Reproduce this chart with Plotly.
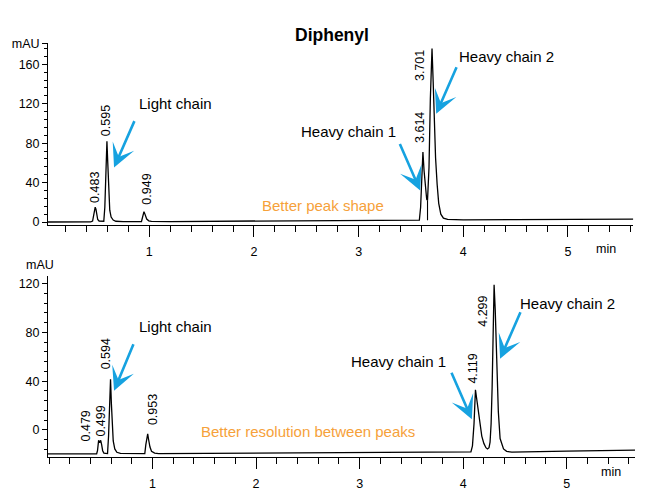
import plotly.graph_objects as go

# ---------------- data ----------------
# Top chromatogram
top_time = [0.03, 0.20, 0.44, 0.458, 0.468, 0.476, 0.483, 0.490, 0.498, 0.507,
            0.520, 0.545, 0.565, 0.575, 0.585, 0.595, 0.603, 0.612, 0.622, 0.635,
            0.655, 0.68, 0.75, 0.925, 0.935, 0.949, 0.960, 0.975, 0.995, 1.02,
            1.2, 1.6, 2.0, 2.4, 2.8, 3.2, 3.5, 3.58, 3.592, 3.603,
            3.614, 3.625, 3.638, 3.650, 3.658, 3.672, 3.685, 3.701, 3.712, 3.722,
            3.735, 3.750, 3.765, 3.785, 3.81, 3.85, 4.0, 4.5, 5.0, 5.3,
            5.624]
top_mau = [0, 0, 0.2, 1, 6, 12.5, 15, 13, 7, 2.5,
           1, 0.6, 0.8, 15, 52, 82, 60, 30, 12, 5,
           2, 0.8, 0.4, 0.5, 4, 10.5, 7.5, 3, 1.2, 0.6,
           0.5, 0.7, 0.9, 1.1, 1.4, 1.6, 1.8, 2, 15, 50,
           71, 52, 32, 23, 22, 55, 125, 176, 142, 100,
           65, 38, 19, 8, 4, 2.6, 2.2, 2.4, 2.7, 2.8,
           3]
top_peaks = [0.483, 0.595, 0.949, 3.614, 3.701]
top_drop_time = [3.658]
top_drop_top = [22]
top_drop_base = [1.8]

# Bottom chromatogram
bot_time = [-0.01, 0.2, 0.46, 0.468, 0.474, 0.479, 0.489, 0.499, 0.508, 0.518,
            0.530, 0.555, 0.565, 0.575, 0.585, 0.594, 0.602, 0.610, 0.620, 0.635,
            0.655, 0.69, 0.8, 0.925, 0.935, 0.953, 0.962, 0.975, 0.990, 1.02,
            1.06, 1.5, 2.0, 2.5, 3.0, 3.5, 4.0, 4.075, 4.09, 4.105,
            4.119, 4.133, 4.148, 4.165, 4.18, 4.20, 4.22, 4.235, 4.25, 4.26,
            4.27, 4.28, 4.29, 4.299, 4.31, 4.325, 4.34, 4.357, 4.375, 4.39,
            4.42, 4.47, 5.0, 5.66]
bot_mau = [-19.6, -19.6, -19.5, -17, -11, -8.5, -10.5, -8.5, -12, -17,
           -19, -19.3, -19.3, -5, 25, 41.5, 22, 3, -9, -15.5,
           -18.3, -19.2, -19.3, -19.3, -12, -3.2, -8, -14, -17.5, -19,
           -19.3, -19.1, -18.9, -18.7, -18.6, -18.5, -18.3, -18, -13, 5,
           33, 24, 13, 2, -5, -11, -14.5, -15.5, -14.5, -10,
           5, 35, 85, 119, 98, 58, 15, -7, -13, -15.5,
           -17.5, -18.2, -17.4, -16.5]
bot_peaks = [0.479, 0.499, 0.594, 0.953, 4.119, 4.299]

x_ticks = [1, 2, 3, 4, 5]
top_y_ticks = [0, 40, 80, 120, 160]
bot_y_ticks = [0, 40, 80, 120]

title_text = "Diphenyl"
chain_labels = ["Light chain", "Heavy chain 1", "Heavy chain 2"]
top_note = "Better peak shape"
bot_note = "Better resolution between peaks"

# ---------------- styles ----------------
W, H = 646, 495
FONT = "Liberation Sans, Arial, sans-serif"
BLUE = "#16A2E0"
ORANGE = "#F6A13A"

fig = go.Figure()

fig.add_trace(go.Scatter(x=top_time, y=top_mau, mode="lines",
                         line=dict(color="black", width=1.3),
                         xaxis="x", yaxis="y", hoverinfo="skip"))
# drop line (integration marker)
dx, dy = [], []
for t, a, b in zip(top_drop_time, top_drop_top, top_drop_base):
    dx += [t, t, None]
    dy += [a, b, None]
fig.add_trace(go.Scatter(x=dx, y=dy, mode="lines",
                         line=dict(color="black", width=1.1),
                         xaxis="x", yaxis="y", hoverinfo="skip"))
fig.add_trace(go.Scatter(x=bot_time, y=bot_mau, mode="lines",
                         line=dict(color="black", width=1.3),
                         xaxis="x2", yaxis="y2", hoverinfo="skip"))

axis_common = dict(showline=True, linecolor="black", linewidth=1,
                   showgrid=False, zeroline=False, tickcolor="black",
                   tickfont=dict(family=FONT, size=12.5, color="black"))

fig.update_layout(
    width=W, height=H,
    margin=dict(l=0, r=0, t=0, b=0),
    paper_bgcolor="white", plot_bgcolor="white",
    showlegend=False,
    font=dict(family=FONT, color="black"),
    xaxis=dict(domain=[48 / W, 633.3 / W], range=[0.032, 5.624], anchor="y",
               ticks="outside", ticklen=11, tickwidth=1, tickvals=x_ticks,
               ticklabelstandoff=4,
               minor=dict(dtick=0.2, tick0=0, ticks="outside", ticklen=6,
                          tickcolor="black"),
               **axis_common),
    yaxis=dict(domain=[1 - 224 / H, 1 - 37.9 / H], range=[-3.5, 181.5], anchor="x",
               ticks="outside", ticklen=5, tickwidth=1,
               tickvals=top_y_ticks + [181],
               ticktext=[str(v) for v in top_y_ticks] + ["mAU"],
               minor=dict(dtick=8, tick0=0, ticks="outside", ticklen=3,
                          tickcolor="black"),
               **axis_common),
    xaxis2=dict(domain=[48 / W, 635 / W], range=[-0.01, 5.66], anchor="y2",
                ticks="outside", ticklen=11, tickwidth=1, tickvals=x_ticks,
                ticklabelstandoff=4,
                minor=dict(dtick=0.2, tick0=0, ticks="outside", ticklen=6,
                           tickcolor="black"),
                **axis_common),
    yaxis2=dict(domain=[1 - 460.5 / H, 1 - 275.8 / H], range=[-22.3, 126], anchor="x2",
                ticks="outside", ticklen=5, tickwidth=1, tickvals=bot_y_ticks,
                minor=dict(dtick=8, tick0=0, ticks="outside", ticklen=3,
                           tickcolor="black"),
                **axis_common),
)

ann = []
# title
ann.append(dict(text="<b>" + title_text + "</b>", x=332.5 / W, y=1 - 17 / H,
                xref="paper", yref="paper", showarrow=False,
                font=dict(family=FONT, size=17.5, color="black")))
# unit labels
ann.append(dict(text="mAU", x=24 / W, y=1 - 264 / H, xref="paper", yref="paper",
                showarrow=False, font=dict(family=FONT, size=12.5)))
ann.append(dict(text="min", x=618 / W, y=1 - 248 / H, xref="paper", yref="paper",
                showarrow=False, font=dict(family=FONT, size=12.5)))
ann.append(dict(text="min", x=623 / W, y=1 - 485 / H, xref="paper", yref="paper",
                showarrow=False, font=dict(family=FONT, size=12.5)))


def height_at(times, vals, t):
    return vals[min(range(len(times)), key=lambda i: abs(times[i] - t))]


# peak retention-time labels: (xshift, yshift, yanchor)
top_lab_style = [(0, 2, "bottom"), (-1.5, 3, "bottom"), (3.5, 5, "bottom"),
                 (-3.5, 7, "bottom"), (-12, 0, "top")]
for t, (xs, ys, ya) in zip(top_peaks, top_lab_style):
    ann.append(dict(text=f"{t:.3f}", x=t, y=height_at(top_time, top_mau, t),
                    xref="x", yref="y", showarrow=False, textangle=-90,
                    xanchor="center", yanchor=ya, xshift=xs, yshift=ys,
                    font=dict(family=FONT, size=12.5, color="black")))
bot_lab_style = [(-13, -3, "bottom"), (0.5, 1.5, "bottom"), (-5, 8, "bottom"),
                 (4.7, 6.7, "bottom"), (-2.6, 4, "bottom"), (-10.6, -9, "top")]
for t, (xs, ys, ya) in zip(bot_peaks, bot_lab_style):
    ann.append(dict(text=f"{t:.3f}", x=t, y=height_at(bot_time, bot_mau, t),
                    xref="x2", yref="y2", showarrow=False, textangle=-90,
                    xanchor="center", yanchor=ya, xshift=xs, yshift=ys,
                    font=dict(family=FONT, size=12.5, color="black")))

# chain text labels
top_text_pos = [(1.246, 119.8), (2.90, 92.2), (4.41, 167.8)]
bot_text_pos = [(1.217, 84.7), (3.372, 56.5), (5.01, 103.9)]
for lab, (x, y) in zip(chain_labels, top_text_pos):
    ann.append(dict(text=lab, x=x, y=y, xref="x", yref="y", showarrow=False,
                    font=dict(family=FONT, size=15, color="black")))
for lab, (x, y) in zip(chain_labels, bot_text_pos):
    ann.append(dict(text=lab, x=x, y=y, xref="x2", yref="y2", showarrow=False,
                    font=dict(family=FONT, size=15, color="black")))

# arrows: head position (data) and tail offset (px)
top_arrows = [(0.663, 55.2, 21, -48), (3.588, 32, -21, -48), (3.741, 109.8, 21, -48)]
bot_arrows = [(0.628, 32.1, 20, -48), (4.084, 8.8, -21, -48), (4.357, 58.4, 21, -48)]
for (x, y, ax, ay) in top_arrows:
    ann.append(dict(text="", x=x, y=y, xref="x", yref="y", ax=ax, ay=ay,
                    showarrow=True, arrowhead=3, arrowsize=1.5, arrowwidth=2.6,
                    arrowcolor=BLUE, standoff=0))
for (x, y, ax, ay) in bot_arrows:
    ann.append(dict(text="", x=x, y=y, xref="x2", yref="y2", ax=ax, ay=ay,
                    showarrow=True, arrowhead=3, arrowsize=1.5, arrowwidth=2.6,
                    arrowcolor=BLUE, standoff=0))

# orange notes
ann.append(dict(text=top_note, x=2.66, y=16.4, xref="x", yref="y", showarrow=False,
                font=dict(family=FONT, size=15, color=ORANGE)))
ann.append(dict(text=bot_note, x=2.502, y=-1.0, xref="x2", yref="y2", showarrow=False,
                font=dict(family=FONT, size=15, color=ORANGE)))

fig.update_layout(annotations=ann)
fig.write_html("out.html")
